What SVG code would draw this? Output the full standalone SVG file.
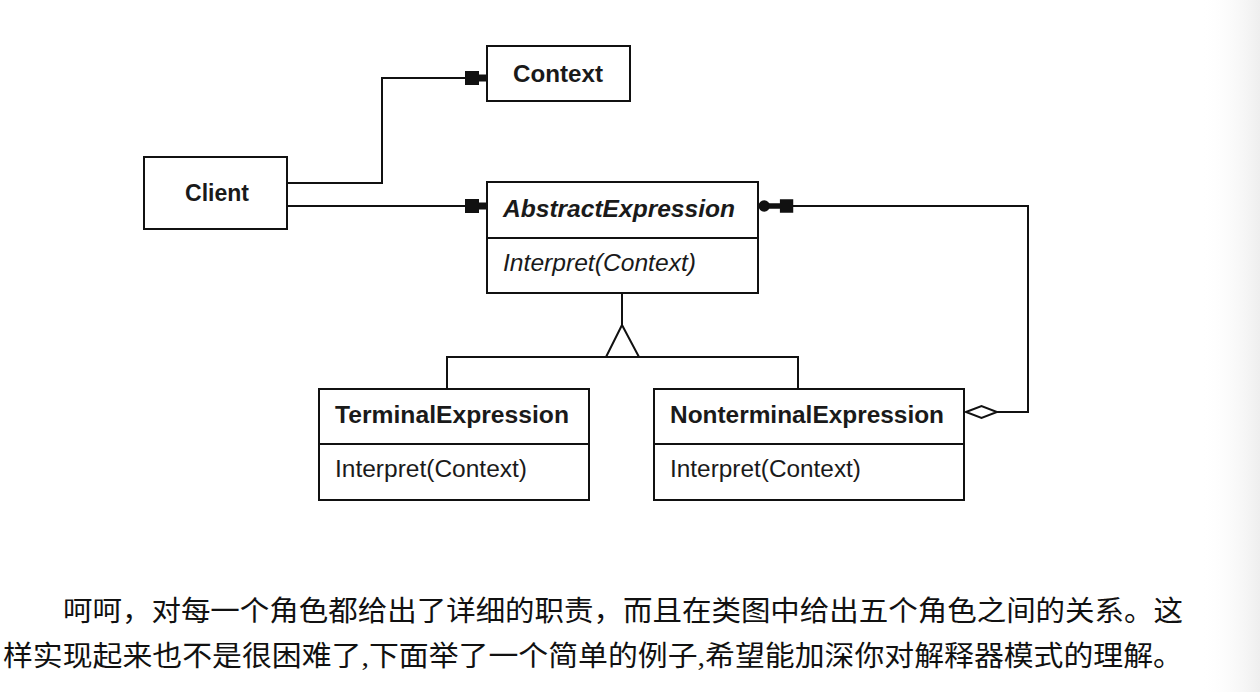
<svg xmlns="http://www.w3.org/2000/svg" width="1260" height="692" viewBox="0 0 1260 692">
<style>
.box{fill:#fff;stroke:#111;stroke-width:2}
.ln{fill:none;stroke:#111;stroke-width:2}
.t{font-family:"Liberation Sans",Arial,sans-serif;font-size:23px;fill:#1a1a1a}
.b{font-weight:bold}
.i{font-style:italic}
.cn{font-family:"Liberation Serif","Noto Sans CJK SC",serif;font-size:28px;fill:#111}
</style>
<defs>
<linearGradient id="edge" x1="0" y1="0" x2="1" y2="0">
<stop offset="0" stop-color="#fff" stop-opacity="0"/>
<stop offset="1" stop-color="#eeeeee"/>
</linearGradient>
<marker id="blk" markerUnits="userSpaceOnUse" markerWidth="30" markerHeight="20" viewBox="-24 -10 26 20" refX="0" refY="0" orient="auto">
<path d="M-22,-7 L-8,-7 L-8,-3.5 L0,-3.5 L0,3.5 L-8,3.5 L-8,7 L-22,7 Z" fill="#111"/>
</marker>
<marker id="blkdot" markerUnits="userSpaceOnUse" markerWidth="40" markerHeight="20" viewBox="-40 -10 42 20" refX="0" refY="0" orient="auto">
<circle cx="-6.5" cy="0" r="6" fill="#111"/>
<path d="M-37,-7 L-23,-7 L-23,-3 L-10,-3 L-10,3 L-23,3 L-23,7 L-37,7 Z" fill="#111"/>
</marker>
</defs>
<rect x="0" y="0" width="1260" height="692" fill="#fff"/>
<rect x="1200" y="0" width="60" height="692" fill="url(#edge)"/>

<g id="connectors">
<path class="ln" d="M287,183 H382 V78 H487" marker-end="url(#blk)"/>
<path class="ln" d="M287,206 H487" marker-end="url(#blk)"/>
<path class="ln" d="M997,412 H1028 V206 H758" marker-end="url(#blkdot)"/>
<path d="M966,412 L981.5,406 L997,412 L981.5,418 Z" fill="#fff" stroke="#111" stroke-width="2"/>
<path class="ln" d="M622,293 V325"/>
<path d="M622,325 L606,357 L639,357 Z" fill="#fff" stroke="#111" stroke-width="2"/>
<path class="ln" d="M447,389 V357 H798 V389"/>
</g>

<g id="context">
<rect class="box" x="487" y="46" width="143" height="55"/>
<text class="t b" x="513" y="82" textLength="90" lengthAdjust="spacingAndGlyphs">Context</text>
</g>

<g id="client">
<rect class="box" x="144" y="157" width="143" height="72"/>
<text class="t b" x="185" y="201" textLength="64" lengthAdjust="spacingAndGlyphs">Client</text>
</g>

<g id="abstractexpression">
<rect class="box" x="487" y="182" width="271" height="111"/>
<line class="ln" x1="487" y1="238" x2="758" y2="238"/>
<text class="t b i" x="503" y="217" textLength="232" lengthAdjust="spacingAndGlyphs">AbstractExpression</text>
<text class="t i" x="503" y="271" textLength="193" lengthAdjust="spacingAndGlyphs">Interpret(Context)</text>
</g>

<g id="terminalexpression">
<rect class="box" x="319" y="389" width="270" height="111"/>
<line class="ln" x1="319" y1="444" x2="589" y2="444"/>
<text class="t b" x="335" y="423" textLength="234" lengthAdjust="spacingAndGlyphs">TerminalExpression</text>
<text class="t" x="335" y="477" textLength="192" lengthAdjust="spacingAndGlyphs">Interpret(Context)</text>
</g>

<g id="nonterminalexpression">
<rect class="box" x="654" y="389" width="310" height="111"/>
<line class="ln" x1="654" y1="444" x2="964" y2="444"/>
<text class="t b" x="670" y="423" textLength="274" lengthAdjust="spacingAndGlyphs">NonterminalExpression</text>
<text class="t" x="670" y="477" textLength="191" lengthAdjust="spacingAndGlyphs">Interpret(Context)</text>
</g>

<g id="caption">
<text class="cn" x="63" y="621" textLength="1120" lengthAdjust="spacingAndGlyphs">呵呵，对每一个角色都给出了详细的职责，而且在类图中给出五个角色之间的关系。这</text>
<text class="cn" x="3" y="666" textLength="1180" lengthAdjust="spacingAndGlyphs">样实现起来也不是很困难了,下面举了一个简单的例子,希望能加深你对解释器模式的理解。</text>
</g>
</svg>
